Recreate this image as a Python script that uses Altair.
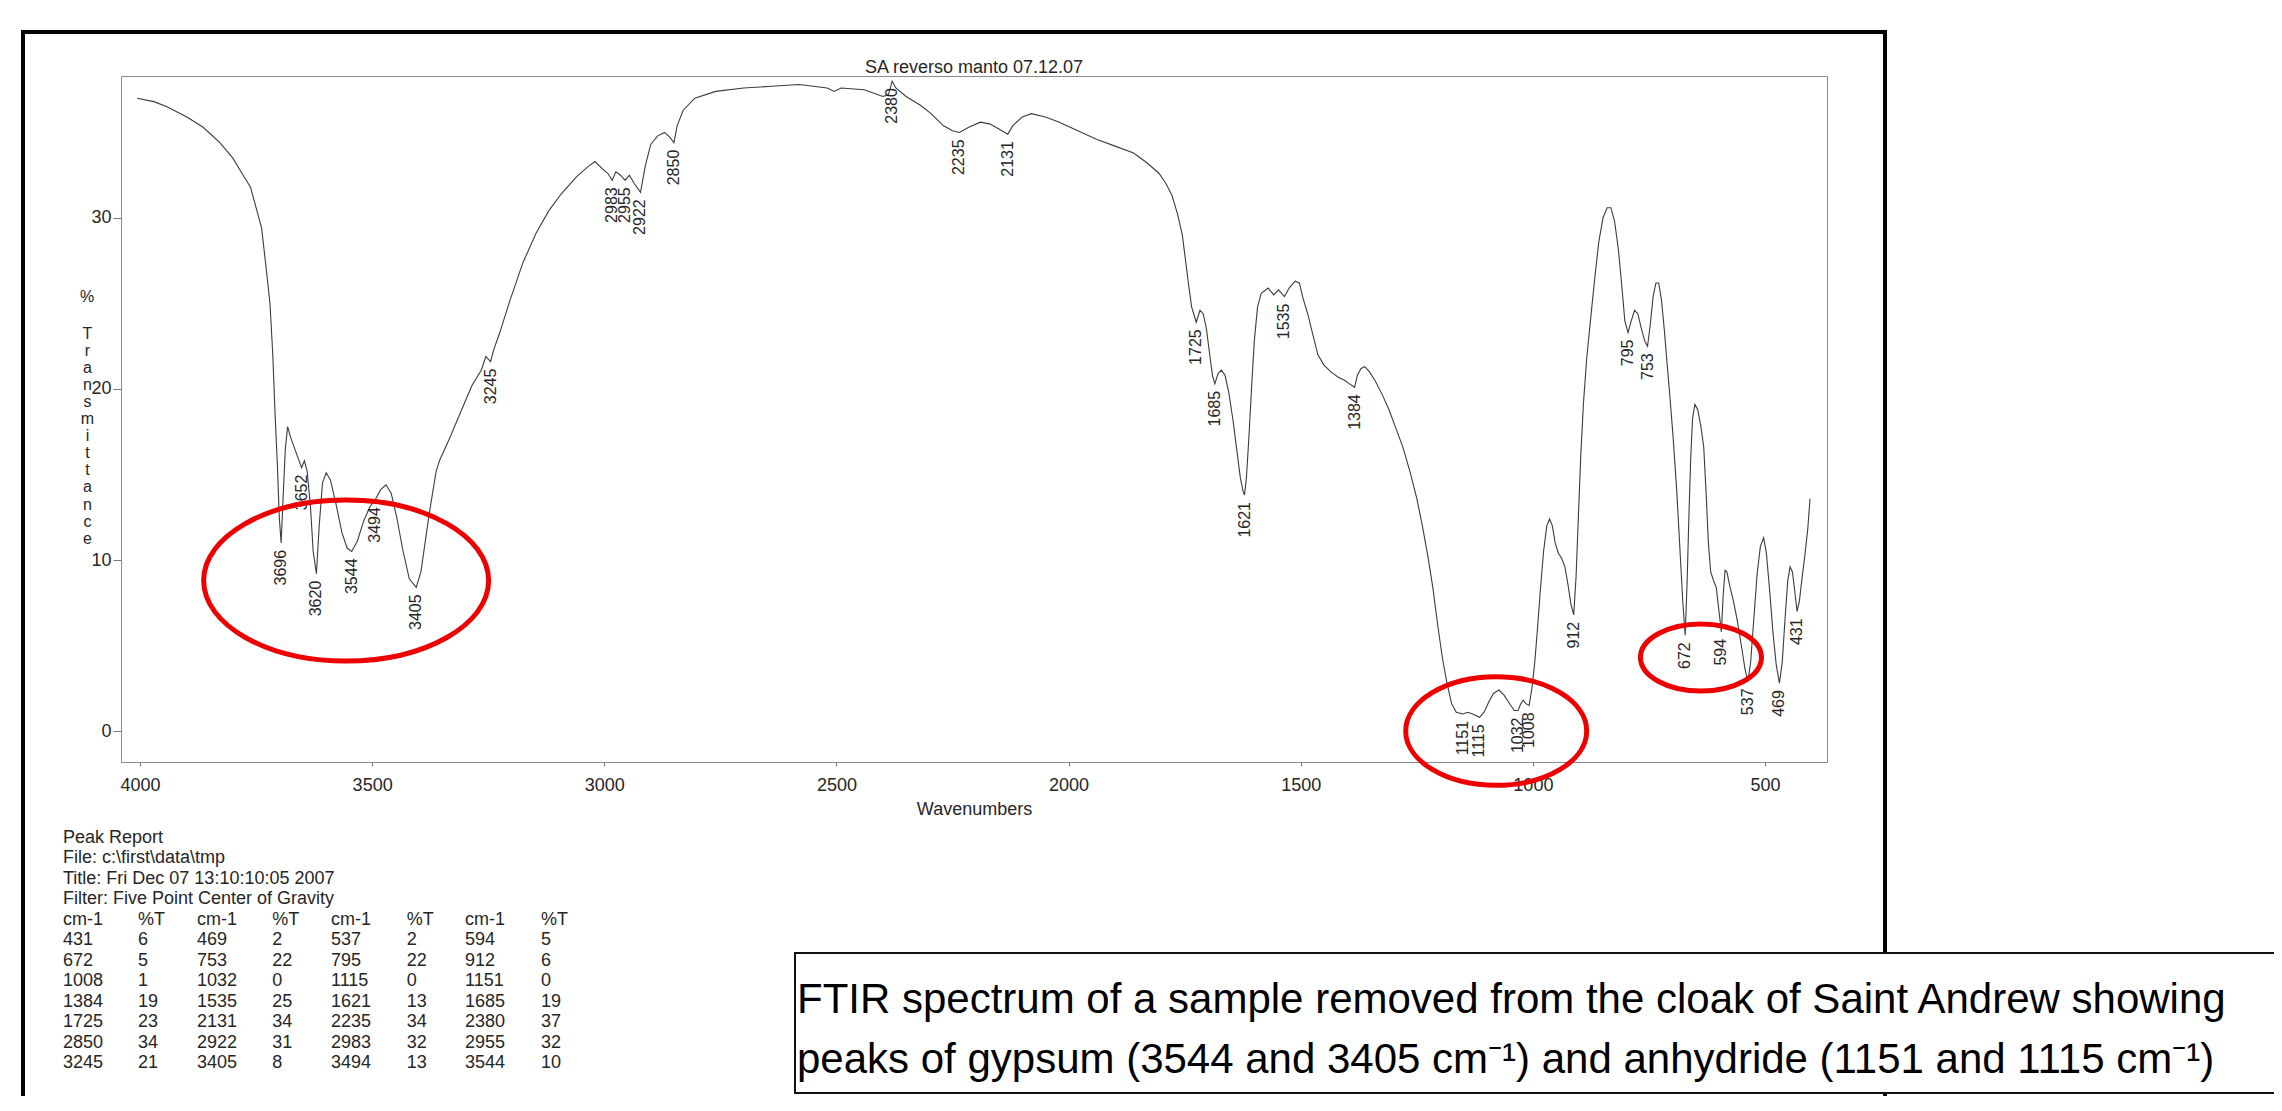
import altair as alt
import pandas as pd

# ---------------- data ----------------
curve_wn = [4006, 3970, 3942, 3899, 3864, 3828, 3800, 3780, 3762, 3750, 3738, 3728, 3720, 3714,
            3709, 3704, 3700, 3696, 3692, 3687, 3682, 3676, 3668, 3660, 3652, 3646, 3640, 3633,
            3627, 3620, 3614, 3607, 3599, 3590, 3578, 3565, 3554, 3544, 3532, 3518, 3505, 3494,
            3482, 3470, 3459, 3447, 3434, 3420, 3405, 3395, 3386, 3376, 3362, 3355, 3335, 3307,
            3285, 3265, 3255, 3245, 3238, 3225, 3203, 3175, 3147, 3120, 3093, 3060, 3035, 3020,
            3005, 2992, 2983, 2975, 2965, 2955, 2946, 2935, 2922, 2912, 2900, 2885, 2870, 2858,
            2850, 2843, 2830, 2805, 2760, 2700, 2640, 2580, 2520, 2505, 2490, 2440, 2400, 2388,
            2380, 2372, 2350, 2320, 2296, 2270, 2250, 2235, 2215, 2190, 2170, 2150, 2131, 2120,
            2100, 2080, 2050, 2020, 1980, 1940, 1900, 1860, 1830, 1805, 1790, 1777, 1765, 1755,
            1748, 1742, 1735, 1725, 1717, 1710, 1703, 1696, 1690, 1685, 1678, 1671, 1663, 1655,
            1646, 1638, 1630, 1624, 1621, 1617, 1612, 1606, 1600, 1593, 1585, 1570, 1558, 1548,
            1535, 1525, 1512, 1503, 1495, 1485, 1475, 1463, 1450, 1435, 1420, 1405, 1395, 1384,
            1378, 1370, 1362, 1352, 1340, 1325, 1310, 1295, 1280, 1265, 1250, 1238, 1226, 1215,
            1205, 1195, 1185, 1175, 1165, 1151, 1140, 1130, 1115, 1105, 1095, 1085, 1073, 1062,
            1050, 1040, 1032, 1026, 1021, 1015, 1008, 1002, 996, 990, 984, 977, 970, 964, 958,
            952, 945, 938, 931, 924, 918, 912, 907, 902, 897, 891, 884, 876, 867, 858, 849, 840,
            832, 824, 816, 809, 802, 795, 788, 781, 774, 766, 759, 753, 747, 741, 735, 729, 723,
            717, 711, 705, 698, 690, 683, 677, 672, 668, 664, 660, 656, 651, 645, 638, 632, 627,
            622, 617, 611, 605, 600, 594, 590, 586, 582, 576, 568, 560, 551, 543, 537, 531, 524,
            517, 510, 503, 497, 490, 483, 476, 469, 463, 457, 451, 446, 441, 436, 431, 426, 420,
            414, 408, 403]
curve_T = [37.0, 36.8, 36.5, 35.9, 35.3, 34.4, 33.5, 32.6, 31.8, 30.6, 29.4, 27.0, 25.0, 22.0,
           18.5, 15.5, 12.5, 11.0, 13.5, 16.5, 17.8, 17.2, 16.6, 16.0, 15.4, 15.8, 15.2, 13.2,
           10.5, 9.2, 12.0, 14.5, 15.1, 14.7, 13.3, 11.6, 10.7, 10.5, 11.1, 12.3, 13.1, 13.5,
           14.1, 14.4, 13.9, 12.5, 10.6, 8.9, 8.4, 9.3, 11.0, 12.9, 15.2, 15.8, 17.0, 18.8,
           20.2, 21.1, 21.9, 21.6, 22.3, 23.3, 25.2, 27.4, 29.1, 30.4, 31.4, 32.4, 33.0, 33.3,
           32.9, 32.6, 32.2, 32.7, 32.5, 32.2, 32.5, 32.0, 31.5, 33.0, 34.3, 34.8, 35.0, 34.7,
           34.4, 35.4, 36.3, 37.0, 37.4, 37.6, 37.7, 37.8, 37.6, 37.4, 37.6, 37.5, 37.1, 37.2,
           38.0, 37.6, 37.1, 36.6, 36.1, 35.4, 35.1, 35.0, 35.3, 35.6, 35.5, 35.2, 34.9, 35.4,
           35.9, 36.1, 35.9, 35.6, 35.1, 34.6, 34.2, 33.8, 33.2, 32.6, 32.0, 31.3, 30.2, 29.0,
           27.5, 26.2, 24.8, 23.9, 24.6, 24.4, 23.5, 22.0, 20.8, 20.3, 20.9, 21.1, 20.8, 19.8,
           18.2, 16.5, 14.8, 14.0, 13.8, 14.8, 17.0, 20.0, 22.8, 24.8, 25.6, 25.9, 25.5, 25.8,
           25.4, 25.9, 26.3, 26.2, 25.3, 24.4, 23.3, 22.0, 21.4, 21.0, 20.7, 20.5, 20.3, 20.1,
           20.8, 21.2, 21.3, 21.0, 20.5, 19.7, 18.8, 17.7, 16.6, 15.2, 13.6, 12.0, 10.2, 8.3,
           6.2, 4.3, 2.8, 1.6, 1.1, 1.0, 1.1, 1.0, 0.8, 1.1, 1.7, 2.2, 2.4, 2.1,
           1.6, 1.2, 1.2, 1.6, 1.8, 1.6, 1.5, 2.5, 4.0, 6.0, 8.2, 10.5, 12.0, 12.4, 12.0,
           11.0, 10.4, 10.1, 9.6, 8.5, 7.4, 6.8, 9.0, 12.5, 16.0, 19.2, 21.8, 24.0, 26.4, 28.6, 30.0, 30.6,
           30.6, 29.8, 28.2, 26.2, 24.0, 23.3, 24.0, 24.6, 24.4, 23.5, 22.8, 22.5, 23.8, 25.4, 26.2, 26.2, 25.2,
           23.5, 21.5, 19.6, 17.2, 14.0, 10.5, 7.5, 5.6, 8.5, 12.5, 16.0, 18.3, 19.1, 18.8, 17.8, 16.6, 14.0,
           11.0, 9.3, 8.8, 8.4, 7.2, 5.8, 8.0, 9.4, 9.3, 8.5, 7.6, 6.5, 5.0, 3.6, 2.9, 4.0, 6.6,
           9.2, 10.8, 11.3, 10.4, 8.2, 5.8, 3.9, 2.8, 4.0, 6.5, 8.8, 9.6, 9.3, 8.2, 7.0, 7.6, 9.0,
           10.3, 11.8, 13.6]

# labelled peaks (cm-1)
peak_wn = [3696, 3652, 3620, 3544, 3494, 3405, 3245, 2983, 2955, 2922, 2850, 2380, 2235, 2131,
           1725, 1685, 1621, 1535, 1384, 1151, 1115, 1032, 1008, 912, 795, 753, 672, 594, 537,
           469, 431]

# peak report table (cm-1, %T), in the printed order
report_wn = [431, 469, 537, 594, 672, 753, 795, 912, 1008, 1032, 1115, 1151, 1384, 1535,
             1621, 1685, 1725, 2131, 2235, 2380, 2850, 2922, 2983, 2955, 3245, 3405, 3494, 3544]
report_T = [6, 2, 2, 5, 5, 22, 22, 6, 1, 0, 0, 0, 19, 25, 13, 19, 23, 34, 34, 37, 34, 31, 32,
            32, 21, 8, 13, 10]
report_lines = ["Peak Report", "File: c:\\first\\data\\tmp", "Title: Fri Dec 07 13:10:10:05 2007",
                "Filter: Five Point Center of Gravity"]
report_headers = ["cm-1", "%T"]

x_ticks = [4000, 3500, 3000, 2500, 2000, 1500, 1000, 500]
y_ticks = [0, 10, 20, 30]
chart_title = "SA reverso manto 07.12.07"
x_title = "Wavenumbers"
y_unit = "%"
y_title = list("Transmittance")
caption_lines = [
    "\u00a0FTIR spectrum of a sample removed from the cloak of Saint Andrew showing",
    "peaks of gypsum (3544 and 3405 cm\u207b\u00b9) and anhydride (1151 and 1115 cm\u207b\u00b9)",
]

# circled peak groups (centre in wavenumber / %T)
ring_wn = [3556, 1079, 638]
ring_T = [8.8, 0.0, 4.3]

# ---------------- layout ----------------
W, H = 1706, 686
PAD = {"left": 113, "top": 68, "right": 447, "bottom": 334}
X_DOM = [4040.9, 366.5]
Y_DOM = [-1.81, 38.30]
FONT = "Liberation Sans"
INK = "#262626"

xs = alt.Scale(domain=X_DOM, nice=False, zero=False)
ys = alt.Scale(domain=Y_DOM, nice=False, zero=False)

curve_df = pd.DataFrame({"wn": curve_wn, "T": curve_T})
lookup = dict(zip(curve_wn, curve_T))
peaks_df = pd.DataFrame({"wn": peak_wn, "T": [lookup[w] for w in peak_wn],
                         "label": [str(w) for w in peak_wn]})

one = pd.DataFrame({"k": [0]})

frame = alt.Chart(one).mark_rect(fillOpacity=0, stroke="#000000", strokeWidth=4).encode(
    x=alt.value(-98), x2=alt.value(1764), y=alt.value(-44), y2=alt.value(1200))

line = alt.Chart(curve_df).mark_line(color="#3c3c3c", strokeWidth=1.1).encode(
    x=alt.X("wn:Q", scale=xs, axis=alt.Axis(
        values=x_ticks, format="d", labelFont=FONT, labelFontSize=18, labelColor=INK,
        labelPadding=10, tickSize=4, tickColor="#777777", domain=False, grid=False,
        labelFlush=False, labelOverlap=False,
        title=x_title, titleFont=FONT, titleFontSize=18, titleFontWeight="normal",
        titleColor=INK, titleX=W / 2, titleY=52, titleAlign="center",
        titleBaseline="alphabetic")),
    y=alt.Y("T:Q", scale=ys, axis=alt.Axis(
        values=y_ticks, format="d", labelFont=FONT, labelFontSize=18, labelColor=INK,
        labelPadding=2, tickSize=8, tickColor="#777777", domain=False, grid=False,
        labelFlush=False,
        title=y_title, titleAngle=0, titleAlign="center", titleBaseline="alphabetic",
        titleX=-34, titleY=262, titleLineHeight=17.1, titleFont=FONT, titleFontSize=16,
        titleFontWeight="normal", titleColor=INK)),
)

unit_df = pd.DataFrame({"t": [y_unit]})
unit = alt.Chart(unit_df).mark_text(
    align="center", baseline="alphabetic", font=FONT, fontSize=16, color=INK
).encode(x=alt.value(-34), y=alt.value(226), text="t:N")

peak_text = alt.Chart(peaks_df).mark_text(
    angle=270, align="right", baseline="middle", dx=-7, font=FONT, fontSize=16, color=INK
).encode(
    x=alt.X("wn:Q", scale=xs, axis=None),
    y=alt.Y("T:Q", scale=ys, axis=None),
    text="label:N",
)

title_df = pd.DataFrame({"t": [chart_title]})
title = alt.Chart(title_df).mark_text(
    align="center", baseline="alphabetic", font=FONT, fontSize=18, color=INK
).encode(x=alt.value(W / 2), y=alt.value(-3), text="t:N")

# report table
row_scale = alt.Scale(domain=[-5, 6], range=[767, 992], nice=False, zero=False)
cm_scale = alt.Scale(domain=[0, 3], range=[-58, 344], nice=False, zero=False)
t_scale = alt.Scale(domain=[0, 3], range=[17, 420], nice=False, zero=False)

lines_df = pd.DataFrame({"text": report_lines, "row": list(range(-5, -1)), "pair": [0] * 4})
cm_rows = [{"text": report_headers[0], "row": -1, "pair": p} for p in range(4)]
t_rows = [{"text": report_headers[1], "row": -1, "pair": p} for p in range(4)]
for k, (w, t) in enumerate(zip(report_wn, report_T)):
    cm_rows.append({"text": str(w), "row": k // 4, "pair": k % 4})
    t_rows.append({"text": str(t), "row": k // 4, "pair": k % 4})
cm_df = pd.DataFrame(cm_rows)
t_df = pd.DataFrame(t_rows)

tbl_style = dict(align="left", baseline="alphabetic", font=FONT, fontSize=18, color=INK)
report_lines_layer = alt.Chart(lines_df).mark_text(**tbl_style).encode(
    x=alt.X("pair:Q", scale=cm_scale, axis=None),
    y=alt.Y("row:Q", scale=row_scale, axis=None), text="text:N")
cm_layer = alt.Chart(cm_df).mark_text(**tbl_style).encode(
    x=alt.X("pair:Q", scale=cm_scale, axis=None),
    y=alt.Y("row:Q", scale=row_scale, axis=None), text="text:N")
t_layer = alt.Chart(t_df).mark_text(**tbl_style).encode(
    x=alt.X("pair:Q", scale=t_scale, axis=None),
    y=alt.Y("row:Q", scale=row_scale, axis=None), text="text:N")

# caption box
cap_box = alt.Chart(one).mark_rect(fill="#ffffff", stroke="#111111", strokeWidth=2).encode(
    x=alt.value(674), x2=alt.value(2200), y=alt.value(877), y2=alt.value(1017))
cap_df = pd.DataFrame({"text": caption_lines, "row": [0, 1]})
cap_text = alt.Chart(cap_df).mark_text(
    align="left", baseline="alphabetic", font=FONT, fontSize=42, color="#000000"
).encode(
    x=alt.value(676),
    y=alt.Y("row:Q", scale=alt.Scale(domain=[0, 1], range=[937, 997], nice=False, zero=False),
            axis=None),
    text="text:N",
)

# red rings
def ring(i, width_px, ratio):
    path = f"M -1 0 A 1 {ratio} 0 1 1 1 0 A 1 {ratio} 0 1 1 -1 0 Z"
    df = pd.DataFrame({"wn": [ring_wn[i]], "T": [ring_T[i]]})
    return alt.Chart(df).mark_point(
        shape=path, size=width_px ** 2, filled=False, color="#ee0000", strokeWidth=5, opacity=1
    ).encode(x=alt.X("wn:Q", scale=xs, axis=None), y=alt.Y("T:Q", scale=ys, axis=None))

rings = [ring(0, 285, 0.565), ring(1, 181, 0.6), ring(2, 121, 0.554)]

chart = alt.layer(
    frame, line, unit, peak_text, title, report_lines_layer, cm_layer, t_layer, cap_box,
    cap_text, *rings
).resolve_scale(x="independent", y="independent").properties(
    width=W, height=H, padding=PAD, autosize=alt.AutoSizeParams(type="none"),
    background="white",
).configure_view(stroke="#8c8c8c", strokeWidth=1)

chart.save("out.html", embed_options={"renderer": "svg", "actions": False})
